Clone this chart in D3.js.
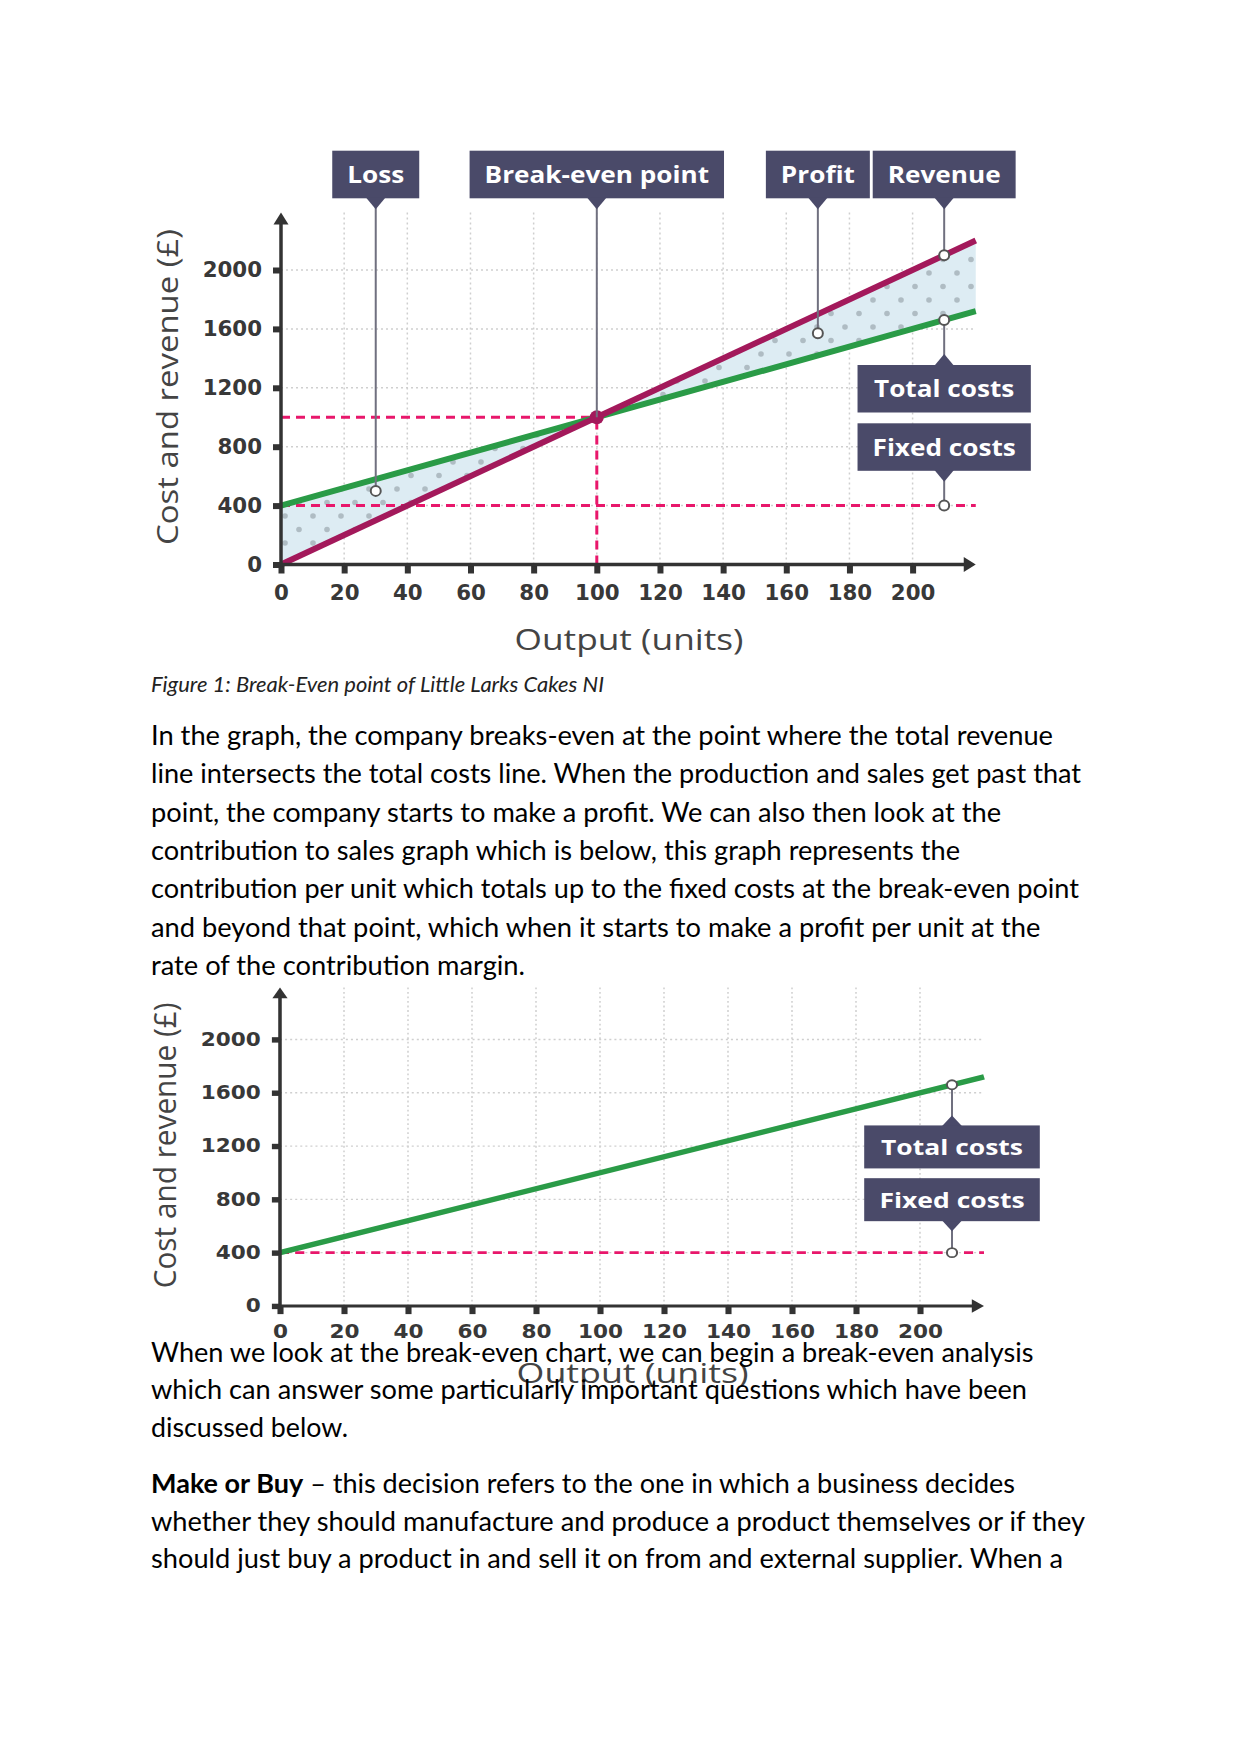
<!DOCTYPE html>
<html><head><meta charset="utf-8">
<script src="https://cdn.jsdelivr.net/npm/d3@7"></script>
<style>html,body{margin:0;padding:0;background:#fff} svg{display:block}</style>
</head><body>
<svg id="page" width="1241" height="1754"></svg>
<script>
// ---------- data ----------
const outputTicks = [0,20,40,60,80,100,120,140,160,180,200];
const costTicks = [0,400,800,1200,1600,2000];
const lineOutput = [0, 220];
const revenueValues = [0, 2200];
const totalCostValues = [400, 1720];
const fixedCostValues = [400, 400];
const breakEvenOutput = 100;
const breakEvenValue = 1000;
const topLabels = ["Loss","Break-even point","Profit","Revenue"];
const topLabelOutput = [30, 100, 170, 210];
const topLabelValue = [500, 1000, 1570, 2100];
const sideLabels = ["Total costs","Fixed costs"];
const sideLabelOutput = [210, 210];
const sideLabelValue = [1660, 400];
const yAxisTitle = "Cost and revenue (£)";
const xAxisTitle = "Output (units)";
const captionText = "Figure 1: Break-Even point of Little Larks Cakes NI";
const para1 = [
 "In the graph, the company breaks-even at the point where the total revenue",
 "line intersects the total costs line. When the production and sales get past that",
 "point, the company starts to make a profit. We can also then look at the",
 "contribution to sales graph which is below, this graph represents the",
 "contribution per unit which totals up to the fixed costs at the break-even point",
 "and beyond that point, which when it starts to make a profit per unit at the",
 "rate of the contribution margin."];
const para2 = [
 "When we look at the break-even chart, we can begin a break-even analysis",
 "which can answer some particularly important questions which have been",
 "discussed below."];
const para3Bold = "Make or Buy";
const para3 = [
 " \u2013 this decision refers to the one in which a business decides",
 "whether they should manufacture and produce a product themselves or if they",
 "should just buy a product in and sell it on from and external supplier. When a"];

// ---------- styles / layout ----------
const C = {
  crimson:"#a3195b", green:"#2a9b47", dash:"#e8176b", box:"#4a4a69",
  connector:"#70707f", axis:"#333333", grid:"#cfcfcf",
  shade:"#ddecf3", dot:"#afbcc3"
};
const LABEL_FONT = "'Open Sans', 'DejaVu Sans', sans-serif";
const TICK_FONT = "'DejaVu Sans', sans-serif";
const BODY_FONT = "Lato, 'Noto Sans', sans-serif";

function stretch(sel, factor) {
  sel.each(function(){
    const n = this, len = n.getComputedTextLength();
    d3.select(n).attr("textLength", len*factor).attr("lengthAdjust","spacingAndGlyphs");
  });
  return sel;
}

const svg = d3.select("#page");
const defs = svg.append("defs");
const pat = defs.append("pattern").attr("id","dots").attr("patternUnits","userSpaceOnUse")
  .attr("width",28).attr("height",27).attr("x",5).attr("y",3);
pat.append("rect").attr("width",28).attr("height",27).attr("fill",C.shade);
[[0,0],[28,0],[0,27],[28,27],[14,13.5]].forEach(p=>
  pat.append("circle").attr("cx",p[0]).attr("cy",p[1]).attr("r",2.8).attr("fill",C.dot));

function drawChart(g, full) {
  const x = d3.scaleLinear().domain([0,200]).range([281, 912.6]);
  const y = d3.scaleLinear().domain([0,2000]).range([564.5, 270]);
  const yTop = y(2390), xEnd = x(220);

  // grid
  g.append("g").selectAll("line").data(outputTicks.filter(d=>d>0)).join("line")
    .attr("x1",d=>x(d)).attr("x2",d=>x(d)).attr("y1",yTop).attr("y2",y(0))
    .attr("stroke",C.grid).attr("stroke-width",1.5).attr("stroke-dasharray","2 3");
  g.append("g").selectAll("line").data(costTicks.filter(d=>d>0)).join("line")
    .attr("x1",x(0)).attr("x2",xEnd).attr("y1",d=>y(d)).attr("y2",d=>y(d))
    .attr("stroke",C.grid).attr("stroke-width",1.5).attr("stroke-dasharray","2 3");

  const area = d3.area().x(d=>x(d.u)).y0(d=>y(d.lo)).y1(d=>y(d.hi));
  if (full) {
    const lossArea = [{u:lineOutput[0], lo:revenueValues[0], hi:totalCostValues[0]},
                      {u:breakEvenOutput, lo:breakEvenValue, hi:breakEvenValue}];
    const profitArea = [{u:breakEvenOutput, lo:breakEvenValue, hi:breakEvenValue},
                        {u:lineOutput[1], lo:totalCostValues[1], hi:revenueValues[1]}];
    g.append("path").attr("d",area(lossArea)).attr("fill","url(#dots)");
    g.append("path").attr("d",area(profitArea)).attr("fill","url(#dots)");
  }

  // dashed guides
  const dashes = [{x1:0,y1:fixedCostValues[0],x2:lineOutput[1],y2:fixedCostValues[1]}];
  if (full) {
    dashes.push({x1:0,y1:breakEvenValue,x2:breakEvenOutput,y2:breakEvenValue});
    dashes.push({x1:breakEvenOutput,y1:0,x2:breakEvenOutput,y2:breakEvenValue});
  }
  g.append("g").selectAll("line").data(dashes).join("line")
    .attr("x1",d=>x(d.x1)).attr("x2",d=>x(d.x2)).attr("y1",d=>y(d.y1)).attr("y2",d=>y(d.y2))
    .attr("stroke",C.dash).attr("stroke-width",3).attr("stroke-dasharray","9 6");

  // lines
  const line = d3.line().x(d=>x(d[0])).y(d=>y(d[1]));
  g.append("path").attr("d",line(d3.zip(lineOutput,totalCostValues)))
    .attr("fill","none").attr("stroke",C.green).attr("stroke-width",6);
  if (full) {
    g.append("path").attr("d",line(d3.zip(lineOutput,revenueValues)))
      .attr("fill","none").attr("stroke",C.crimson).attr("stroke-width",6);
  }

  // axes
  const ya = g.append("g").attr("transform",`translate(${x(0)},0)`)
    .call(d3.axisLeft(y).tickValues(costTicks).tickSize(8).tickPadding(11).tickFormat(d3.format("d")));
  const xa = g.append("g").attr("transform",`translate(0,${y(0)})`)
    .call(d3.axisBottom(x).tickValues(outputTicks).tickSize(9).tickPadding(12).tickFormat(d3.format("d")));
  [ya,xa].forEach(a=>{
    a.select(".domain").remove();
    a.selectAll(".tick line").attr("stroke",C.axis).attr("stroke-width",6);
    const t = a.selectAll(".tick text").attr("fill","#383838").style("font-family",TICK_FONT)
      .style("font-size","20.5px").style("font-weight",700);
    stretch(t, 1.04);
  });
  g.append("line").attr("x1",x(0)).attr("x2",x(0)).attr("y1",y(0)+3).attr("y2",yTop+8)
    .attr("stroke",C.axis).attr("stroke-width",3.5);
  g.append("path").attr("d",`M${x(0)},${yTop} L${x(0)+7.5},${yTop+12} L${x(0)-7.5},${yTop+12} Z`).attr("fill",C.axis);
  g.append("line").attr("x1",x(0)-3).attr("x2",xEnd-8).attr("y1",y(0)).attr("y2",y(0))
    .attr("stroke",C.axis).attr("stroke-width",3.5);
  g.append("path").attr("d",`M${xEnd},${y(0)} L${xEnd-12},${y(0)-7.5} L${xEnd-12},${y(0)+7.5} Z`).attr("fill",C.axis);

  // axis titles
  g.append("text").attr("x",629).attr("y",650).attr("text-anchor","middle")
    .attr("textLength",229).attr("lengthAdjust","spacingAndGlyphs")
    .attr("fill","#444").style("font-family",LABEL_FONT).style("font-size","30px").text(xAxisTitle);
  g.append("text").attr("transform","translate(178,387) rotate(-90)").attr("text-anchor","middle")
    .attr("textLength",316).attr("lengthAdjust","spacingAndGlyphs")
    .attr("fill","#444").style("font-family",LABEL_FONT).style("font-size","30px").text(yAxisTitle);

  // break-even marker
  if (full) {
    g.append("circle").attr("cx",x(breakEvenOutput)).attr("cy",y(breakEvenValue)).attr("r",7).attr("fill",C.crimson);
  }

  function labelText(cx, baseline, label) {
    const t = g.append("text").attr("x",cx).attr("y",baseline).attr("text-anchor","middle").attr("fill","#fff")
      .style("font-family",LABEL_FONT).style("font-size","24px").style("font-weight",700).text(label);
    stretch(t, 1.09);
    return t;
  }
  function openDot(cx, cy) {
    g.append("circle").attr("cx",cx).attr("cy",cy).attr("r",5).attr("fill","#fff")
      .attr("stroke","#555").attr("stroke-width",2);
  }

  // top callouts
  if (full) {
    const bTop = 150.7, bH = 47.6;
    topLabels.forEach((lab,i)=>{
      const cx = x(topLabelOutput[i]), cy = y(topLabelValue[i]);
      g.append("line").attr("x1",cx).attr("x2",cx).attr("y1",bTop+bH).attr("y2",cy)
        .attr("stroke",C.connector).attr("stroke-width",2);
      const rect = g.append("rect").attr("y",bTop).attr("height",bH).attr("fill",C.box);
      const t = labelText(cx, bTop+bH/2+8.7, lab);
      const w = +t.attr("textLength") + 30;
      rect.attr("x",cx-w/2).attr("width",w);
      g.append("path").attr("d",`M${cx-10},${bTop+bH-1} L${cx+10},${bTop+bH-1} L${cx},${bTop+bH+11} Z`).attr("fill",C.box);
      if (i !== 1) openDot(cx, cy);
    });
  }

  // side callouts (Total costs / Fixed costs)
  const sTop = [365, 423.3], sH = 47.5, sW = 173.3;
  sideLabels.forEach((lab,i)=>{
    const cx = x(sideLabelOutput[i]), cy = y(sideLabelValue[i]);
    if (i === 0) {
      g.append("line").attr("x1",cx).attr("x2",cx).attr("y1",cy).attr("y2",sTop[0])
        .attr("stroke",C.connector).attr("stroke-width",2);
      g.append("path").attr("d",`M${cx-10},${sTop[0]+1} L${cx+10},${sTop[0]+1} L${cx},${sTop[0]-11} Z`).attr("fill",C.box);
    } else {
      g.append("line").attr("x1",cx).attr("x2",cx).attr("y1",sTop[1]+sH).attr("y2",cy)
        .attr("stroke",C.connector).attr("stroke-width",2);
      g.append("path").attr("d",`M${cx-10},${sTop[1]+sH-1} L${cx+10},${sTop[1]+sH-1} L${cx},${sTop[1]+sH+11} Z`).attr("fill",C.box);
    }
    g.append("rect").attr("x",cx-sW/2).attr("y",sTop[i]).attr("width",sW).attr("height",sH).attr("fill",C.box);
    labelText(cx, sTop[i]+sH/2+8.7, lab);
    openDot(cx, cy);
  });
}

drawChart(svg.append("g"), true);
drawChart(svg.append("g").attr("transform","matrix(1.0133,0,0,0.905,-4.74,795.1)"), false);

// ---------- document text ----------
const LEFT = 151;
svg.append("text").attr("x",LEFT).attr("y",692).attr("fill","#222")
  .attr("textLength",453).attr("lengthAdjust","spacingAndGlyphs")
  .style("font-family",BODY_FONT).style("font-size","21px").style("font-style","italic").text(captionText);

function bodyLines(lines, baselines, rights) {
  lines.forEach((t,i)=>{
    svg.append("text").attr("x",LEFT).attr("y",baselines[i]).attr("fill","#000")
      .attr("textLength",rights[i]-LEFT).attr("lengthAdjust","spacingAndGlyphs")
      .style("font-family",BODY_FONT).style("font-size","26px").text(t);
  });
}
bodyLines(para1, para1.map((_,i)=>745+i*38.3), [1053,1081,1001,960,1079,1040.5,525]);
bodyLines(para2, [1361.7,1399.2,1436.7], [1033.5,1027,348]);

const p3b = [1493.3,1530.8,1568.3], p3r = [1015,1085,1063];
const t0 = svg.append("text").attr("x",LEFT).attr("y",p3b[0]).attr("fill","#000")
  .attr("textLength",p3r[0]-LEFT).attr("lengthAdjust","spacingAndGlyphs")
  .style("font-family",BODY_FONT).style("font-size","26px");
t0.append("tspan").style("font-weight",700).text(para3Bold);
t0.append("tspan").text(para3[0]);
bodyLines(para3.slice(1), p3b.slice(1), p3r.slice(1));
</script>
</body></html>
